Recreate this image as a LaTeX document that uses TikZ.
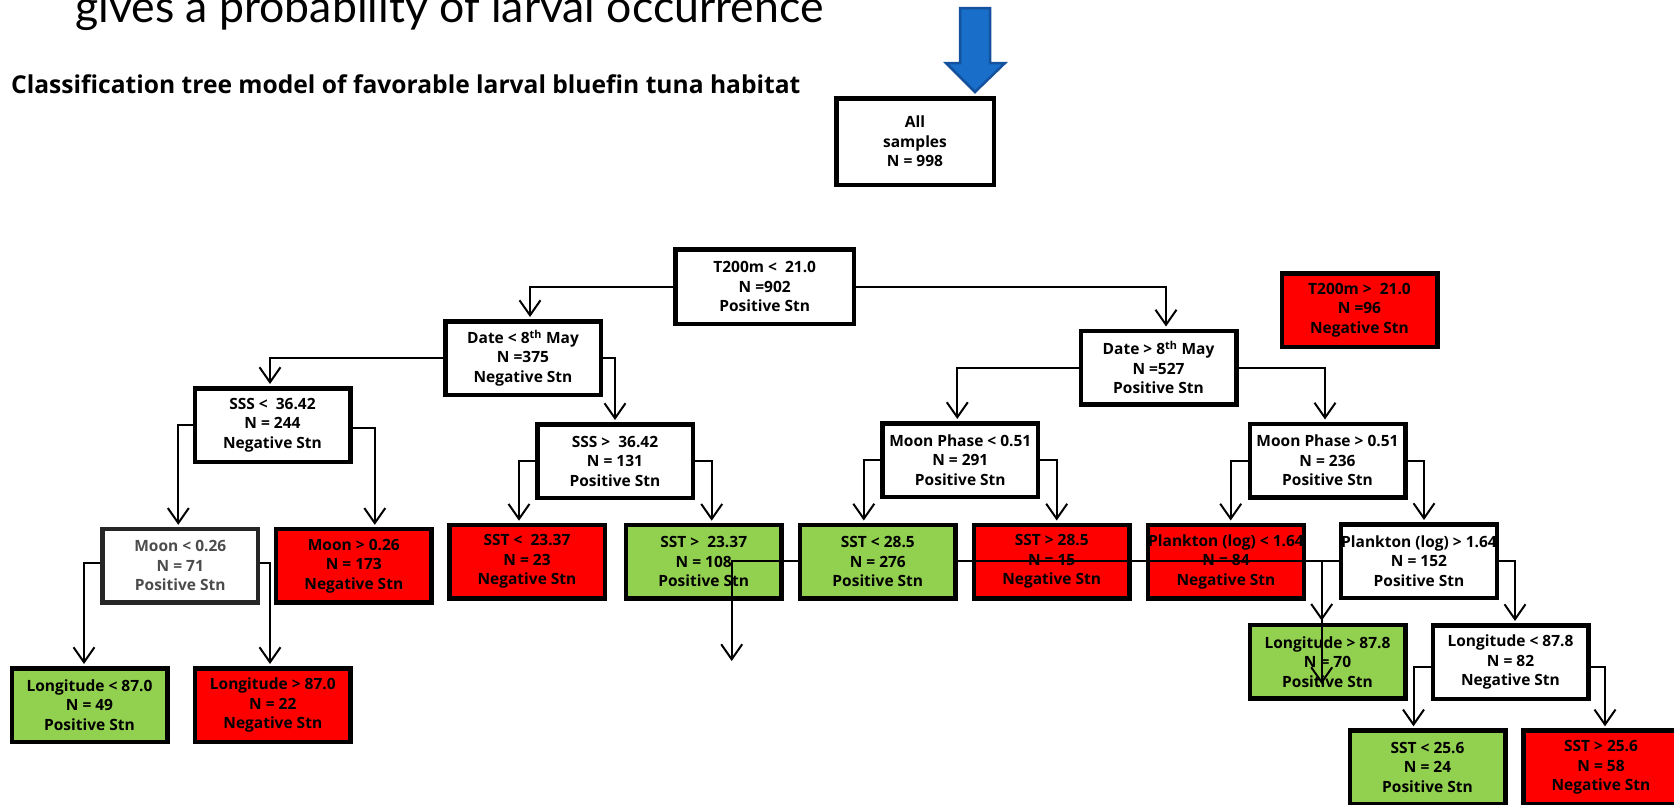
\documentclass[tikz,border=0pt]{standalone}
\usepackage{fontspec}
\setmainfont{Lato}
\newfontfamily\boxfont{Open Sans}
\usetikzlibrary{arrows.meta}
\definecolor{LeafGreen}{RGB}{146,208,80}
\definecolor{AlarmRed}{RGB}{255,0,0}
\definecolor{ArrowBlue}{RGB}{24,110,200}
\definecolor{ArrowEdge}{RGB}{20,82,160}
\tikzset{
  box/.style={draw=black,line width=4.5pt,fill=white,align=center,text=black,font=\boxfont\bfseries\fontsize{15.5}{19.5}\selectfont,minimum width=155.5pt,minimum height=73.5pt,inner xsep=0pt,inner ysep=2pt},
  posbox/.style={box,fill=LeafGreen},
  negbox/.style={box,fill=AlarmRed},
  blurbox/.style={box,draw=black!85,text=black!70},
  conn/.style={-{Straight Barb[length=15pt,width=21pt]},line width=2pt,shorten >=2pt},
  heading/.style={anchor=base west,inner sep=0pt,font=\boxfont\bfseries\fontsize{24.6}{30}\selectfont},
  slide/.style={anchor=base west,inner sep=0pt,font=\fontsize{44.6}{50}\selectfont}
}
\begin{document}
\begin{tikzpicture}[x=1pt,y=-1pt]
  \useasboundingbox (0,0) rectangle (1674,804);
  \clip (0,0) rectangle (1674,804);
  \node[slide] (slidetext) at (75,22.7) {gives a probability of larval occurrence};
  \node[heading] (title) at (11,93) {Classification tree model of favorable larval bluefin tuna habitat};
  \draw[fill=ArrowBlue,draw=ArrowEdge,line width=2.5pt] (960,8) -- (990,8) -- (990,63) -- (1005,63) -- (975,92) -- (946,63) -- (960,63) -- cycle;

  \node[box,minimum width=157.5pt,minimum height=86.5pt] (all) at (915,141.5) {All\\samples\\N = 998};
  \node[box,minimum width=178.5pt,minimum height=74.5pt] (t200lo) at (764.7,286.7) {T200m <\ \ 21.0\\N =902\\Positive Stn};
  \node[negbox] (t200hi) at (1359.5,310) {T200m >\ \ 21.0\\N =96\\Negative Stn};
  \node[box] (datelo) at (523,358) {Date < 8\textsuperscript{th} May\\N =375\\Negative Stn};
  \node[box] (datehi) at (1158.5,367.5) {Date > 8\textsuperscript{th} May\\N =527\\Positive Stn};
  \node[box] (ssslo) at (272.5,425) {SSS <\ \ 36.42\\N = 244\\Negative Stn};
  \node[box] (ssshi) at (615,461) {SSS >\ \ 36.42\\N = 131\\Positive Stn};
  \node[box] (moonlo) at (960.3,460) {Moon Phase < 0.51\\N = 291\\Positive Stn};
  \node[box] (moonhi) at (1327.5,460.5) {Moon Phase > 0.51\\N = 236\\Positive Stn};
  \node[blurbox] (m26lo) at (180.3,565.8) {Moon < 0.26\\N = 71\\Positive Stn};
  \node[negbox] (m26hi) at (353.8,565.8) {Moon > 0.26\\N = 173\\Negative Stn};
  \node[negbox] (sst2337lo) at (527,561.7) {SST <\ \ 23.37\\N = 23\\Negative Stn};
  \node[posbox] (sst2337hi) at (703.7,561.7) {SST >\ \ 23.37\\N = 108\\Positive Stn};
  \node[negbox] (sst285hi) at (1051.7,561.5) {SST > 28.5\\N = 15\\Negative Stn};
  \node[negbox] (plklo) at (1226,561.5) {Plankton (log) < 1.64\\N = 84\\Negative Stn};
  \node[box] (plkhi) at (1419,561) {Plankton (log) > 1.64\\N = 152\\Positive Stn};
  \node[posbox] (lon870lo) at (89.5,705) {Longitude < 87.0\\N = 49\\Positive Stn};
  \node[negbox] (lon870hi) at (272.8,705) {Longitude > 87.0\\N = 22\\Negative Stn};
  \node[posbox] (lon878hi) at (1327.5,661.7) {Longitude > 87.8\\N = 70\\Positive Stn};
  \node[box] (lon878lo) at (1510.5,662) {Longitude < 87.8\\N = 82\\Negative Stn};
  \node[posbox] (sst256lo) at (1427.5,767.3) {SST < 25.6\\N = 24\\Positive Stn};
  \node[negbox] (sst256hi) at (1601,767.3) {SST > 25.6\\N = 58\\Negative Stn};

  \coordinate (loose) at (731.7,663);
  \coordinate (loosetoo) at (1321.7,686);
  \draw[conn] (plkhi.west) -- (plkhi.west -| loose) -- (loose);
  \draw[conn] (plkhi.west) -| (loosetoo);
  \node[posbox] (sst285lo) at (877.8,561.5) {SST < 28.5\\N = 276\\Positive Stn};

  \draw[conn] (t200lo.west) -| ([xshift=7pt]datelo.north);
  \draw[conn] (t200lo.east) -| ([xshift=7.5pt]datehi.north);
  \draw[conn] (datelo.west) -| ([xshift=-2.5pt]ssslo.north);
  \draw[conn] (datelo.east) -| (ssshi.north);
  \draw[conn] (datehi.west) -| ([xshift=-3pt]moonlo.north);
  \draw[conn] (datehi.east) -| ([xshift=-2.5pt]moonhi.north);
  \draw[conn] (ssslo.west) -| ([xshift=-2pt]m26lo.north);
  \draw[conn] ([yshift=-3pt]ssslo.east) -| ([xshift=21pt]m26hi.north);
  \draw[conn] (ssshi.west) -| ([xshift=-8pt]sst2337lo.north);
  \draw[conn] (ssshi.east) -| ([xshift=8pt]sst2337hi.north);
  \draw[conn] (moonlo.west) -| ([xshift=-14pt]sst285lo.north);
  \draw[conn] (moonlo.east) -| ([xshift=5pt]sst285hi.north);
  \draw[conn] (moonhi.west) -| ([xshift=4.7pt]plklo.north);
  \draw[conn] (moonhi.east) -| ([xshift=5pt]plkhi.north);
  \draw[conn] ([yshift=2.5pt]m26lo.west) -| ([xshift=-5.5pt]lon870lo.north);
  \draw[conn] ([yshift=2.5pt]m26lo.east) -| ([xshift=-2.8pt]lon870hi.north);
  \draw[conn] (plkhi.west) -| ([xshift=-5.8pt]lon878hi.north);
  \draw[conn] (plkhi.east) -| ([xshift=4.5pt]lon878lo.north);
  \draw[conn] ([yshift=-4.7pt]lon878lo.west) -| ([xshift=-14pt]sst256lo.north);
  \draw[conn] ([yshift=-4.7pt]lon878lo.east) -| ([xshift=4pt]sst256hi.north);
\end{tikzpicture}
\end{document}
